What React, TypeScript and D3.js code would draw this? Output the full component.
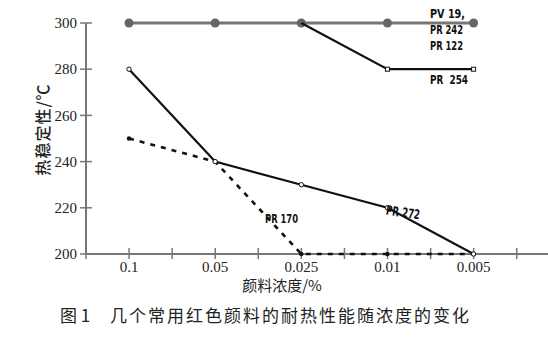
import React from "react";
import * as d3 from "d3";

const categories = ["0.1", "0.05", "0.025", "0.01", "0.005"];
const yTicks = [200, 220, 240, 260, 280, 300];
const pv19Values = [300, 300, 300, 300, 300];
const pr254Values = [null, null, 300, 280, 280];
const pr272Values = [280, 240, 230, 220, 200];
const pr170Values = [250, 240, 200, 200, 200];

const W = 548, H = 357;

export default function App() {
  const x = d3.scalePoint<string>().domain(categories).range([129, 473.6]);
  const step = x.step();
  const axisX0 = 86, axisX1 = 473.6 + step;
  const y = d3.scaleLinear().domain([200, 300]).range([254, 23]);
  const minorTicks = d3.range(0, 11).map((k) => axisX0 + (step / 2) * k);

  const line = d3
    .line<number | null>()
    .defined((d) => d != null)
    .x((_, i) => x(categories[i]) as number)
    .y((d) => y(d as number));

  const pts = (vals: (number | null)[]) =>
    vals
      .map((v, i) => ({ v, c: categories[i] }))
      .filter((p) => p.v != null)
      .map((p) => ({ x: x(p.c) as number, y: y(p.v as number) }));

  const labelFont = "'DejaVu Sans', 'Liberation Sans', sans-serif";
  const Lbl = ({ x: lx, y: ly, w, t, rot }: { x: number; y: number; w: number; t: string; rot?: string }) => (
    <text x={lx} y={ly} textLength={w} lengthAdjust="spacingAndGlyphs" transform={rot} style={{ whiteSpace: "pre" }}>
      {t}
    </text>
  );

  return (
    <svg width={W} height={H} style={{ position: "absolute", left: 0, top: 0, background: "#fff" }}>
      <rect width={W} height={H} fill="#fff" />
      {/* axes */}
      <line x1={axisX0} x2={axisX0} y1={y(300)} y2={y(200)} stroke="#777" strokeWidth={2} />
      <line x1={axisX0} x2={axisX1} y1={y(200)} y2={y(200)} stroke="#777" strokeWidth={2} />
      {yTicks.map((t) => (
        <g key={t}>
          <line x1={axisX0 - 6} x2={axisX0 + 6} y1={y(t)} y2={y(t)} stroke="#777" strokeWidth={1.5} />
          <text x={axisX0 - 9} y={y(t)} dy="0.35em" textAnchor="end" fontFamily="'Liberation Serif', serif" fontSize={15} fill="#222">
            {t}
          </text>
        </g>
      ))}
      {minorTicks.map((mx, i) => (
        <line key={i} x1={mx} x2={mx} y1={y(200) - 6} y2={y(200) + 5} stroke="#777" strokeWidth={1.5} />
      ))}
      {categories.map((c) => (
        <text key={c} x={x(c)} y={272} textAnchor="middle" fontFamily="'Liberation Serif', serif" fontSize={15} fill="#222">
          {c}
        </text>
      ))}
      <text x={282} y={291} textAnchor="middle" fontFamily="'Noto Sans CJK SC', sans-serif" fontSize={15} fill="#222">
        颜料浓度/%
      </text>
      <text
        transform="translate(49,129.5) rotate(-90)"
        textAnchor="middle"
        fontFamily="'Noto Sans CJK SC', sans-serif"
        fontWeight={500}
        fontSize={16}
        letterSpacing={1}
        fill="#222"
      >
        热稳定性/℃
      </text>

      {/* PR170 dashed */}
      <path d={line(pr170Values) || ""} fill="none" stroke="#111" strokeWidth={2.6} strokeDasharray="5 6" />
      {pts(pr170Values).map((p, i) => (
        <circle key={i} cx={p.x} cy={p.y} r={2.2} fill="#111" />
      ))}

      {/* PR272 */}
      <path d={line(pr272Values) || ""} fill="none" stroke="#111" strokeWidth={2.2} />
      {pts(pr272Values).map((p, i) => (
        <circle key={i} cx={p.x} cy={p.y} r={2.2} fill="#fff" stroke="#111" strokeWidth={1} />
      ))}

      {/* PV19 gray */}
      <path d={line(pv19Values) || ""} fill="none" stroke="#777" strokeWidth={3} />
      {pts(pv19Values).map((p, i) => (
        <circle key={i} cx={p.x} cy={p.y} r={4.5} fill="#666" />
      ))}

      {/* PR254 */}
      <path d={line(pr254Values) || ""} fill="none" stroke="#111" strokeWidth={2.2} />
      {pts(pr254Values)
        .slice(1)
        .map((p, i) => (
          <rect key={i} x={p.x - 2} y={p.y - 2} width={4} height={4} fill="#fff" stroke="#111" strokeWidth={1} />
        ))}

      {/* labels */}
      <g fontFamily={labelFont} fontWeight={700} fontSize={13} fill="#111">
        <Lbl x={430} y={18} w={35} t="PV 19," />
        <Lbl x={430} y={33.5} w={33} t="PR 242" />
        <Lbl x={430} y={49.5} w={33} t="PR 122" />
        <Lbl x={430} y={83.5} w={38} t="PR  254" />
        <Lbl x={265} y={222.5} w={33} t="PR 170" />
        <Lbl x={386} y={217} w={34} t="PR 272" rot="rotate(8,403,213)" />
      </g>

      <text x={60} y={322} fontFamily="'Noto Sans CJK SC', sans-serif" fontSize={17} fill="#222">
        图 1
      </text>
      <text x={110} y={322} fontFamily="'Noto Sans CJK SC', sans-serif" fontSize={17} letterSpacing={2} fill="#222">
        几个常用红色颜料的耐热性能随浓度的变化
      </text>
    </svg>
  );
}
